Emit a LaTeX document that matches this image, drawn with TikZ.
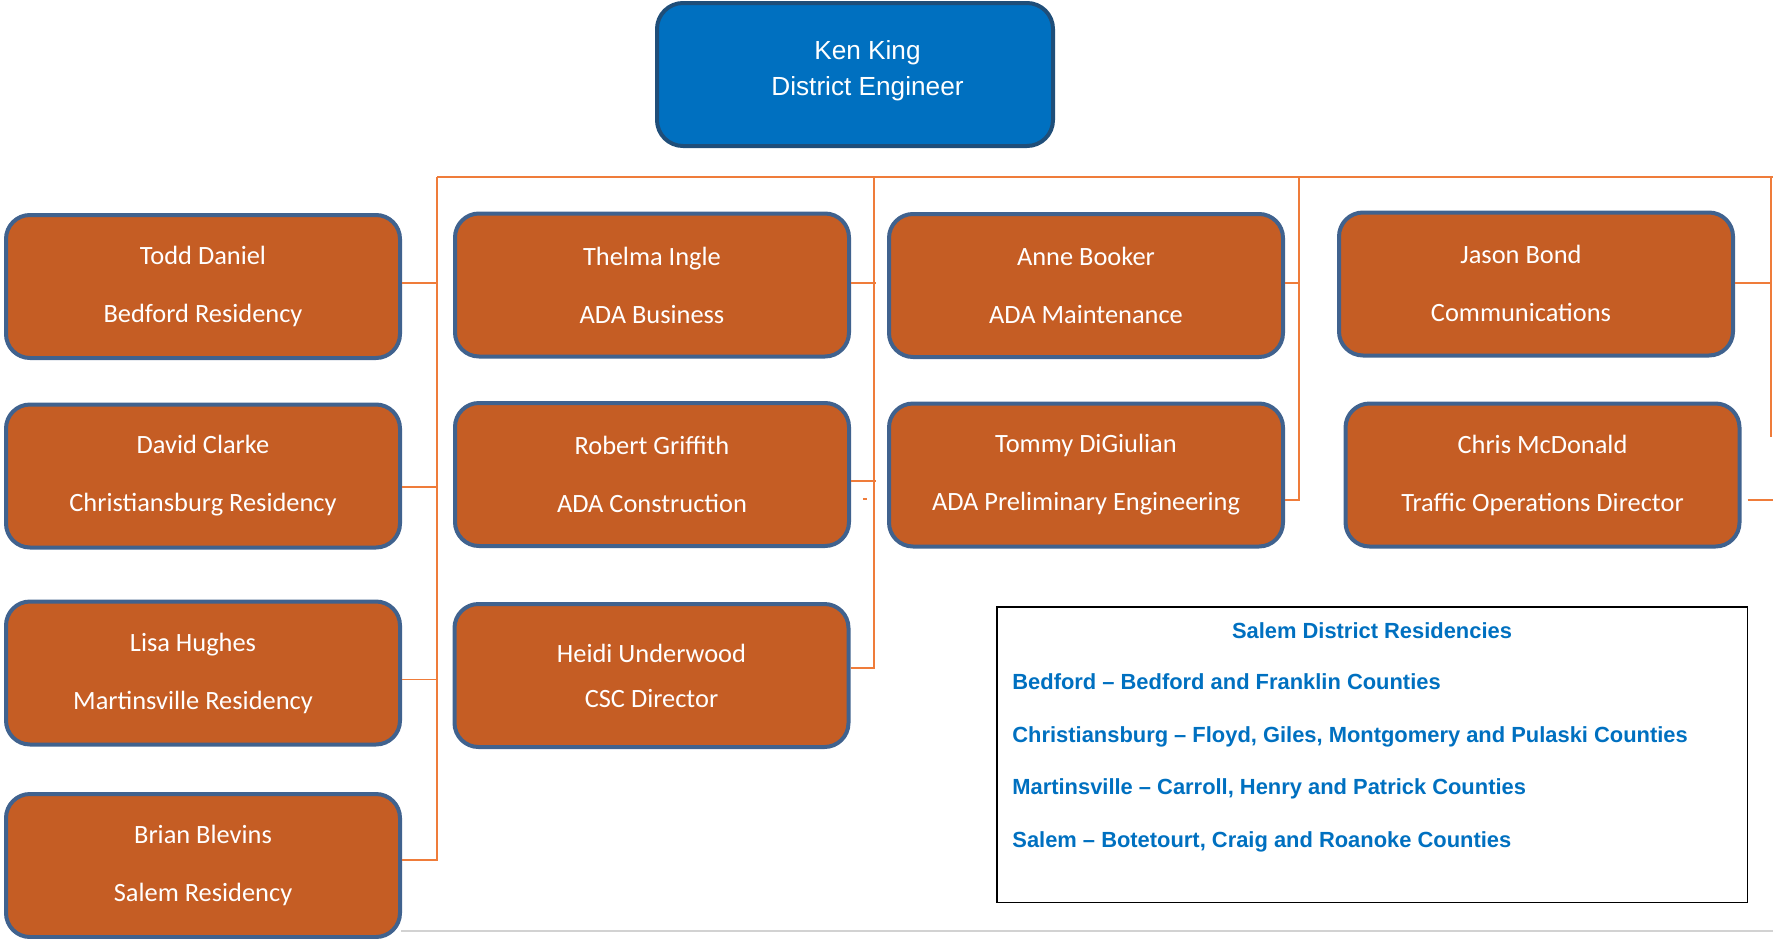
\documentclass[tikz,border=0pt]{standalone}
\usepackage{fontspec}
\setmainfont{Carlito}
\newfontfamily\arialfont{Liberation Sans}

\definecolor{chiefblue}{HTML}{0070C0}
\definecolor{chiefline}{HTML}{1F4E79}
\definecolor{stafffill}{HTML}{C55D24}
\definecolor{staffline}{HTML}{40628E}
\definecolor{wireorange}{HTML}{EF7C3A}

\tikzset{
  chief/.style={draw=chiefline, fill=chiefblue, line width=2pt, rounded corners=13pt,
    minimum width=198pt, minimum height=71.5pt},
  chieftext/.style={align=center, text=white, font=\arialfont\fontsize{13.1}{18}\selectfont},
  staff/.style={draw=staffline, fill=stafffill, line width=2pt, rounded corners=12pt,
    minimum width=197pt, minimum height=71.5pt, stafftext},
  stafftext/.style={align=center, text=white, font=\fontsize{13.2}{29}\selectfont},
  wire/.style={draw=wireorange, line width=0.9pt},
  legendtext/.style={inner sep=0pt, text=chiefblue, font=\arialfont\bfseries\fontsize{10.95}{13}\selectfont},
}

\begin{document}
\begin{tikzpicture}[x=0.5pt,y=-0.5pt]
  \useasboundingbox (0,0) rectangle (1773,938);

% DISTRICT ENGINEER ===========================================================
  \node[chief] (kenking) at (855,74.5) {};
  \node[chieftext] (kenkingtext) at (867.5,71) {Ken King\\District Engineer};

% STAFF BOXES =================================================================
  \node[staff] (todd)   at (203,286.5)  {Todd Daniel\\Bedford Residency};
  \node[staff] (david)  at (203,476)    {David Clarke\\Christiansburg Residency};
  \node[staff] (lisa)   at (203,673)    {};
  \node[stafftext] (lisatext) at (193,673) {Lisa Hughes\\Martinsville Residency};
  \node[staff] (brian)  at (203,865.5)  {Brian Blevins\\Salem Residency};

  \node[staff] (thelma) at (652,285)    {Thelma Ingle\\ADA Business};
  \node[staff] (robert) at (652,474.5)  {Robert Griffith\\ADA Construction};
  \node[staff,font=\fontsize{13.2}{22.5}\selectfont] (heidi) at (651.5,675.5) {Heidi Underwood\\CSC Director};

  \node[staff] (anne)   at (1086,285.5) {Anne Booker\\ADA Maintenance};
  \node[staff] (tommy)  at (1086,475)   {Tommy DiGiulian\\ADA Preliminary Engineering};

  \node[staff] (jason)  at (1536,284)   {};
  \node[stafftext] (jasontext) at (1521,283.5) {Jason Bond\\Communications};
  \node[staff] (chris)  at (1542.5,475) {Chris McDonald\\Traffic Operations Director};

% CONNECTORS ==================================================================
  \coordinate (spineA) at (437,177);
  \coordinate (spineB) at (874,177);
  \coordinate (spineC) at (1299,177);
  \coordinate (spineD) at (1771,177);
  \coordinate (spineDend) at (1771,437);
  \coordinate (busR) at (1773,177);
  \coordinate (edgeR) at (1773,500);

  \draw[wire] (spineA) -- (busR); % bus

  % first column
  \draw[wire] (spineA) |- ([yshift=2.75pt]brian.east);
  \draw[wire] ([yshift=1.75pt]todd.east) -- ([yshift=1.75pt]todd.east -| spineA);
  \draw[wire] ([yshift=-5.5pt]david.east) -- ([yshift=-5.5pt]david.east -| spineA);
  \draw[wire] ([yshift=-3.25pt]lisa.east) -- ([yshift=-3.25pt]lisa.east -| spineA);

  % second column
  \draw[wire] (spineB) |- ([yshift=3.75pt]heidi.east);
  \draw[wire] ([yshift=1pt]thelma.east) -- ([xshift=1pt,yshift=1pt]thelma.east -| spineB);
  \draw[wire] ([yshift=-3.25pt]robert.east) -- ([xshift=1pt,yshift=-3.25pt]robert.east -| spineB);
  \draw[wire] (863,499) -- (867,499);

  % third column
  \draw[wire] (spineC) |- ([yshift=-12.5pt]tommy.east);
  \draw[wire] ([yshift=1.25pt]anne.east) -- ([yshift=1.25pt]anne.east -| spineC);

  % fourth column
  \draw[wire] (spineD) -- (spineDend);
  \draw[wire] ([yshift=0.5pt]jason.east) -- ([yshift=0.5pt]jason.east -| spineD);
  \draw[wire] ([xshift=3pt]chris.east |- edgeR) -- (edgeR);

% LEGEND ======================================================================
  \node[draw=black, line width=0.75pt, minimum width=375.25pt, minimum height=147.75pt] (legend) at (1372,754.5) {};
  \node[legendtext, anchor=base] (legendtitle) at (1372,638) {Salem District Residencies};
  \node[legendtext, anchor=base west] (bedford) at (1012,689) {Bedford – Bedford and Franklin Counties};
  \node[legendtext, anchor=base west] (christiansburg) at (1012,742.5) {Christiansburg – Floyd, Giles, Montgomery and Pulaski Counties};
  \node[legendtext, anchor=base west] (martinsville) at (1012,794.5) {Martinsville – Carroll, Henry and Patrick Counties};
  \node[legendtext, anchor=base west] (salem) at (1012,847) {Salem – Botetourt, Craig and Roanoke Counties};

  \draw[gray!35, line width=1pt] (401,931) -- (1773,931);

\end{tikzpicture}
\end{document}
